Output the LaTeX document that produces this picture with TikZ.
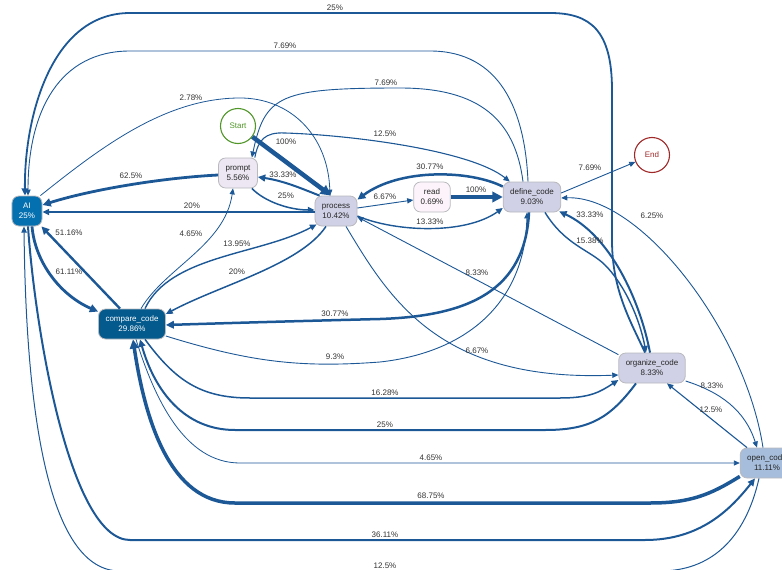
\documentclass[tikz,border=0pt]{standalone}
\usepackage{fontspec}
\setmainfont{Liberation Sans}
\usetikzlibrary{arrows.meta}
\definecolor{flowblue}{RGB}{28,87,150}
\definecolor{boxline}{RGB}{185,185,190}
\definecolor{pubu1}{RGB}{252,244,250}
\definecolor{pubu2}{RGB}{236,231,242}
\definecolor{pubu3}{RGB}{208,209,230}
\definecolor{pubu4}{RGB}{166,189,219}
\definecolor{pubu6}{RGB}{5,112,176}
\definecolor{pubu7}{RGB}{4,90,141}
\definecolor{startgreen}{RGB}{80,150,40}
\definecolor{endred}{RGB}{160,40,40}

\begin{document}
\begin{tikzpicture}[x=1pt,y=-1pt,font=\fontsize{8}{10}\selectfont]
  \tikzstyle{activity} = [draw=boxline,line width=0.8pt,rounded corners=7pt,minimum height=30pt,minimum width=30pt,inner xsep=7pt,align=center,text=black!85]
  \tikzstyle{terminal} = [draw,circle,line width=1.1pt,minimum size=35pt,inner sep=0pt]
  \tikzstyle{flow} = [draw=flowblue,line width=1pt,-{Triangle[length=5pt 1.2,width=4pt 1.4]}]
  \tikzstyle{freq} = [text=black!80,inner sep=0pt]
  \useasboundingbox (0,0) rectangle (782,570);

  \node [terminal,draw=startgreen,text=startgreen] (Start) at (238,126) {Start};
  \node [terminal,draw=endred,text=endred] (End) at (652,155) {End};
  \node [activity,fill=pubu6,text=white] (AI) at (27,211) {AI\\25\%};
  \node [activity,fill=pubu2] (prompt) at (238,173) {prompt\\5.56\%};
  \node [activity,fill=pubu3] (process) at (336,211) {process\\10.42\%};
  \node [activity,fill=pubu1] (read) at (432,197) {read\\0.69\%};
  \node [activity,fill=pubu3] (define) at (532,197) {define\_code\\9.03\%};
  \node [activity,fill=pubu7,text=white] (compare) at (132,324) {compare\_code\\29.86\%};
  \node [activity,fill=pubu3] (organize) at (652,368) {organize\_code\\8.33\%};
  \node [activity,fill=pubu4] (open) at (767,463) {open\_code\\11.11\%};

  \draw [flow,line width=4.5pt] (Start) -- ([xshift=-5pt]process.north) node [freq] at (286,142) {100\%};
  \draw [flow,line width=2.8pt] ([yshift=-2pt]prompt.west) .. controls (160,178) and (90,190) .. ([yshift=6pt]AI.east) node [freq] at (131,176) {62.5\%};
  \draw [flow,line width=2pt] ([xshift=5pt]process.north west) .. controls (305,190) and (285,181) .. ([yshift=-4pt]prompt.east) node [freq] at (283,175) {33.33\%};
  \draw [flow,line width=1.5pt] ([xshift=-6pt]prompt.south east) .. controls (265,202) and (290,210) .. ([yshift=1pt]process.west) node [freq] at (286,196) {25\%};
  \draw [flow,line width=1.5pt] ([yshift=-1pt]process.west) -- ([yshift=-1pt]AI.east) node [freq] at (192,206) {20\%};
  \draw [flow,line width=0.8pt] ([xshift=-2pt]AI.north east) .. controls (100,148) and (165,98) .. (240,98) .. controls (290,98) and (328,135) .. ([xshift=-6pt]process.north) node [freq] at (191,98) {2.78\%};
  \draw [flow,line width=0.9pt] ([xshift=-4pt]define.north) .. controls (525,110) and (500,51) .. (430,51) -- (130,51) .. controls (60,51) and (28,110) .. ([xshift=1pt]AI.north) node [freq] at (285,46) {7.69\%};
  \draw [flow,line width=1.8pt] ([xshift=-7pt]organize.north) .. controls (630,320) and (612,290) .. (612,240) -- (612,90) .. controls (612,30) and (590,13) .. (550,13) -- (130,13) .. controls (50,13) and (24,120) .. ([xshift=-2pt]AI.north) node [freq] at (335,8) {25\%};
  \draw [flow,line width=0.9pt] ([xshift=-9pt]define.north) .. controls (515,120) and (480,88) .. (400,88) .. controls (280,88) and (265,95) .. ([xshift=-6pt]prompt.north east) node [freq] at (386,83) {7.69\%};
  \draw [flow,line width=1.1pt] ([xshift=-3pt]prompt.north east) .. controls (258,140) and (265,132) .. (285,133) .. controls (350,135) and (470,150) .. ([xshift=7pt]define.north west) node [freq] at (385,134) {12.5\%};
  \draw [flow,line width=2.5pt] ([yshift=-5pt]define.north west) .. controls (470,170) and (400,168) .. ([yshift=-4pt]process.north east) node [freq] at (430,167) {30.77\%};
  \draw [flow,line width=0.9pt] ([yshift=3pt]process.east) -- ([yshift=-3pt]read.west) node [freq] at (385,197) {6.67\%};
  \draw [flow,line width=4.5pt] (read.east) -- (define.west) node [freq] at (476,190) {100\%};
  \draw [flow,line width=1.4pt] ([yshift=-5pt]process.east) .. controls (395,232) and (465,235) .. ([yshift=-11pt]define.west) node [freq] at (430,222) {13.33\%};
  \draw [flow,line width=0.9pt] ([yshift=4pt]define.east) -- (End) node [freq] at (590,168) {7.69\%};
  \draw [flow,line width=0.9pt] ([xshift=-4pt]open.north) .. controls (745,330) and (640,195) .. ([yshift=-1pt]define.east) node [freq] at (652,216) {6.25\%};
  \draw [flow,line width=2.8pt] ([xshift=5pt]AI.south) .. controls (35,262) and (60,295) .. ([yshift=-3pt]compare.north west) node [freq] at (69,272) {61.11\%};
  \draw [flow,line width=2.4pt] ([xshift=-12pt]compare.north) -- ([xshift=-1pt]AI.south east) node [freq] at (69,233) {51.16\%};
  \draw [flow,line width=0.8pt] ([xshift=9pt]compare.north) .. controls (165,268) and (225,245) .. ([xshift=-5pt]prompt.south) node [freq] at (191,234) {4.65\%};
  \draw [flow,line width=1.4pt] ([xshift=13pt]compare.north) .. controls (170,255) and (260,255) .. ([xshift=2pt,yshift=2pt]process.south west) node [freq] at (237,244) {13.95\%};
  \draw [flow,line width=1.5pt] ([xshift=-10pt]process.south) .. controls (300,265) and (220,285) .. ([yshift=10pt]compare.east) node [freq] at (237,272) {20\%};
  \draw [flow,line width=2.5pt] ([xshift=-3pt]define.south) .. controls (525,290) and (470,316) .. (380,319) .. controls (300,321) and (230,323) .. ([yshift=-1pt]compare.east) node [freq] at (335,314) {30.77\%};
  \draw [flow,line width=0.9pt] ([yshift=-12pt]compare.east) .. controls (250,362) and (300,368) .. (380,362) .. controls (470,352) and (525,300) .. ([xshift=-5pt]define.south) node [freq] at (335,357) {9.3\%};
  \draw [flow,line width=0.9pt] ([xshift=10pt]process.south) .. controls (390,300) and (440,382) .. ([yshift=-7pt]organize.west) node [freq] at (477,351) {6.67\%};
  \draw [flow,line width=0.9pt] ([yshift=-2pt]organize.north west) -- ([yshift=-6pt]process.east) node [freq] at (477,273) {8.33\%};
  \draw [flow,line width=1.5pt] ([xshift=13pt]compare.south) .. controls (175,380) and (200,398) .. (250,398) -- (560,398) .. controls (590,398) and (600,392) .. ([yshift=-12pt]organize.west) node [freq] at (385,393) {16.28\%};
  \draw [flow,line width=2pt] ([xshift=-16pt]organize.south) .. controls (610,418) and (590,430) .. (545,430) -- (235,430) .. controls (185,430) and (155,392) .. ([xshift=8pt]compare.south) node [freq] at (385,425) {25\%};
  \draw [flow,line width=0.8pt] ([xshift=4pt]compare.south) .. controls (155,400) and (185,463) .. (240,463) -- (open.west) node [freq] at (431,458) {4.65\%};
  \draw [flow,line width=3.5pt] ([yshift=2pt]open.south west) .. controls (710,495) and (690,503) .. (650,503) -- (235,503) .. controls (170,503) and (145,420) .. ([xshift=1pt]compare.south) node [freq] at (431,496) {68.75\%};
  \draw [flow,line width=2pt] ([xshift=1pt]AI.south) .. controls (35,330) and (70,540) .. (130,540) -- (645,540) .. controls (700,540) and (730,510) .. ([xshift=-12pt]open.south) node [freq] at (385,535) {36.11\%};
  \draw [flow,line width=1pt] ([xshift=-8pt]open.south) .. controls (745,540) and (710,571) .. (660,571) -- (120,571) .. controls (50,571) and (26,420) .. ([xshift=-3pt]AI.south) node [freq] at (385,566) {12.5\%};
  \draw [flow,line width=2pt] ([xshift=-2pt]organize.north) .. controls (640,300) and (610,235) .. ([xshift=-2pt,yshift=1pt]define.south east) node [freq] at (590,215) {33.33\%};
  \draw [flow,line width=1.4pt] ([xshift=13pt]define.south) .. controls (565,245) and (590,250) .. (605,265) .. controls (625,285) and (640,320) .. ([xshift=-6pt]organize.north) node [freq] at (590,241) {15.38\%};
  \draw [flow,line width=1.1pt] ([xshift=-20pt]open.north) -- ([xshift=15pt]organize.south) node [freq] at (711,410) {12.5\%};
  \draw [flow,line width=0.9pt] ([yshift=-13pt]organize.east) .. controls (720,392) and (745,410) .. ([xshift=-10pt]open.north) node [freq] at (712,386) {8.33\%};
\end{tikzpicture}
\end{document}
